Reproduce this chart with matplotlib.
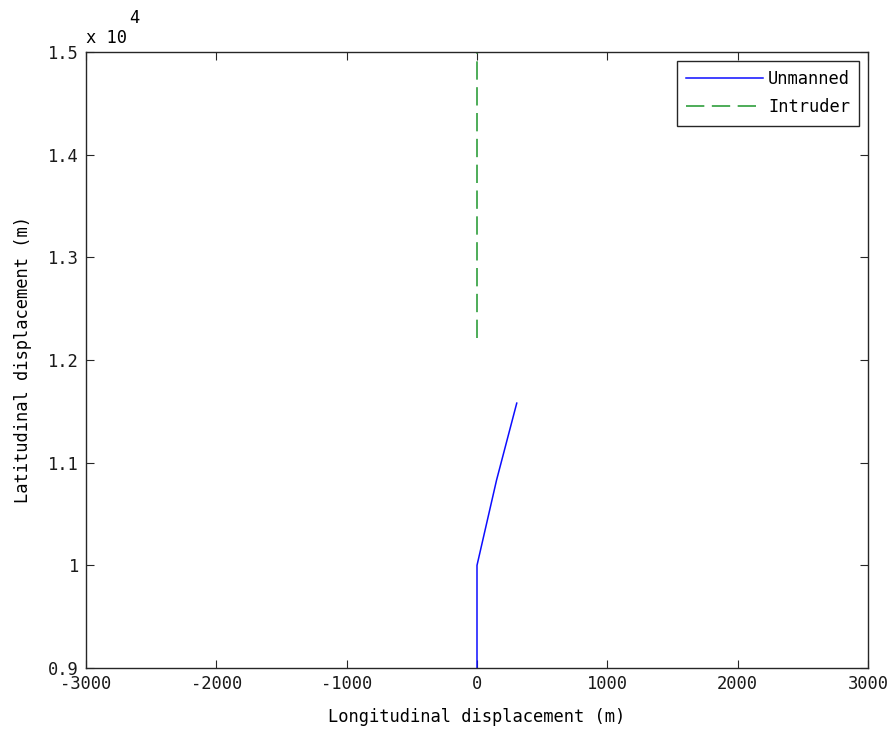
import matplotlib
matplotlib.use("Agg")
import matplotlib.pyplot as plt

# unmanned aircraft track (m)
unmanned_x = [0, 0, 150, 305]
unmanned_y = [9000, 10000, 10830, 11580]
# intruder track (m)
intruder_x = [0, 0]
intruder_y = [12210, 15000]

yticks = [9000, 10000, 11000, 12000, 13000, 14000, 15000]
ytick_labels = ["0.9", "1", "1.1", "1.2", "1.3", "1.4", "1.5"]
xticks = [-3000, -2000, -1000, 0, 1000, 2000, 3000]

plt.rcParams['font.family'] = 'DejaVu Sans Mono'
plt.rcParams['font.size'] = 12.3
plt.rcParams['axes.unicode_minus'] = False

fig = plt.figure(figsize=(8.91, 7.32), dpi=100)
ax = fig.add_axes([0.0965, 0.0874, 0.8777, 0.8416])

ax.plot(unmanned_x, unmanned_y, color=(0.05, 0.05, 1), lw=1.1, label="Unmanned")
ax.plot(intruder_x, intruder_y, color='#2f9e3c', lw=1.2, ls=(0, (11, 4.5)), label="Intruder")

ax.set_xlim(-3000, 3000)
ax.set_ylim(9000, 15000)
ax.set_xticks(xticks)
ax.set_yticks(yticks)
ax.set_yticklabels(ytick_labels)
ax.tick_params(direction='in', top=True, right=True, length=6, width=0.8,
               colors='#262626', pad=5)
ax.tick_params(labelcolor='#1a1a1a')
for s in ax.spines.values():
    s.set_color('#262626')
    s.set_linewidth(1.0)

ax.text(0.0, 1.008, "x 10", transform=ax.transAxes, ha='left', va='bottom', fontsize=12.3)
ax.text(0.055, 1.040, "4", transform=ax.transAxes, ha='left', va='bottom', fontsize=12.3)

ax.set_xlabel("Longitudinal displacement (m)", labelpad=11)
ax.set_ylabel("Latitudinal displacement (m)", labelpad=12)

leg = ax.legend(loc='upper right', fancybox=False, framealpha=1, edgecolor='#262626',
                handlelength=4.5, borderaxespad=0.5, handletextpad=0.3,
                borderpad=0.55, labelspacing=0.6)
leg.get_frame().set_linewidth(1.0)

fig.savefig("out.png", dpi=100)
